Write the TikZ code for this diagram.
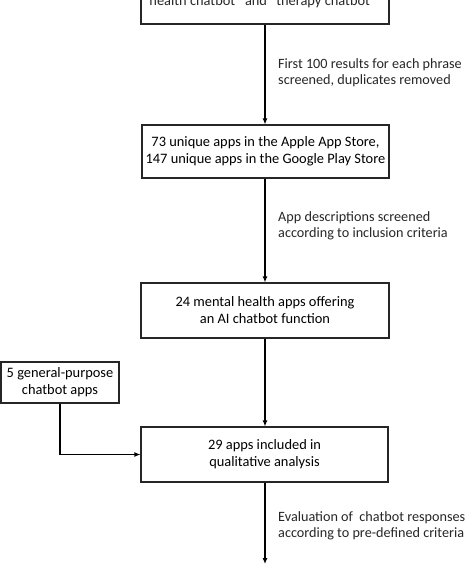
\documentclass[tikz,border=0pt]{standalone}
\usepackage{fontspec}
\setmainfont{Carlito}
\usetikzlibrary{arrows.meta}
\begin{document}
\begin{tikzpicture}[x=1pt,y=1pt,
  box/.style={draw=black!85, line width=1.1pt, align=center, inner sep=0pt, font=\fontsize{14.4}{17}\selectfont},
  lbl/.style={anchor=north west, align=left, inner sep=0pt, font=\fontsize{14.2}{16}\selectfont, text=black!85},
  arr/.style={draw=black, line width=1.1pt, -{Latex[length=6pt,width=5pt]}},
  ln/.style={draw=black, line width=1.1pt}]
\useasboundingbox (0,0) rectangle (471,-564);
\clip (0,0) rectangle (471,-564);
% top box (cut off)
\node[box, minimum width=248pt, minimum height=64pt] (top) at (265,8) {};
\node[anchor=base, inner sep=0pt, font=\fontsize{14.4}{17}\selectfont, text=black!85] (toptext) at (263,-6) {health chatbot” and “therapy chatbot”};
% main boxes
\node[box, minimum width=247pt, minimum height=53pt] (b2) at (265.5,-151.5) {73 unique apps in the Apple App Store,\\147 unique apps in the Google Play Store};
\node[box, minimum width=248pt, minimum height=55pt] (b3) at (265,-310.5) {24 mental health apps offering\\an AI chatbot function};
\node[box, minimum width=118pt, minimum height=41pt] (b4) at (60,-382.5) {5 general-purpose\\chatbot apps};
\node[box, minimum width=247pt, minimum height=55pt] (b5) at (264.5,-454.5) {29 apps included in\\qualitative analysis};
\coordinate (end) at (265,-564);
\coordinate (corner) at (b4.south |- b5.west);
% connectors
\draw[arr] (top.south -| 265,0) -- (b2.north -| 265,0);
\draw[arr] (b2.south -| 265,0) -- (b3.north -| 265,0);
\draw[arr] (b3.south -| 265,0) -- (b5.north -| 265,0);
\draw[arr] (b4.south) -- (corner) -- (b5.west);
\draw[arr] (b5.south -| 265,0) -- (end);
% labels
\node[lbl] (l1) at (278,-58) {First 100 results for each phrase\\screened, duplicates removed};
\node[lbl] (l2) at (278,-211) {App descriptions screened\\according to inclusion criteria};
\node[lbl] (l3) at (278,-511) {Evaluation of~ chatbot responses\\according to pre-defined criteria};
\end{tikzpicture}
\end{document}
